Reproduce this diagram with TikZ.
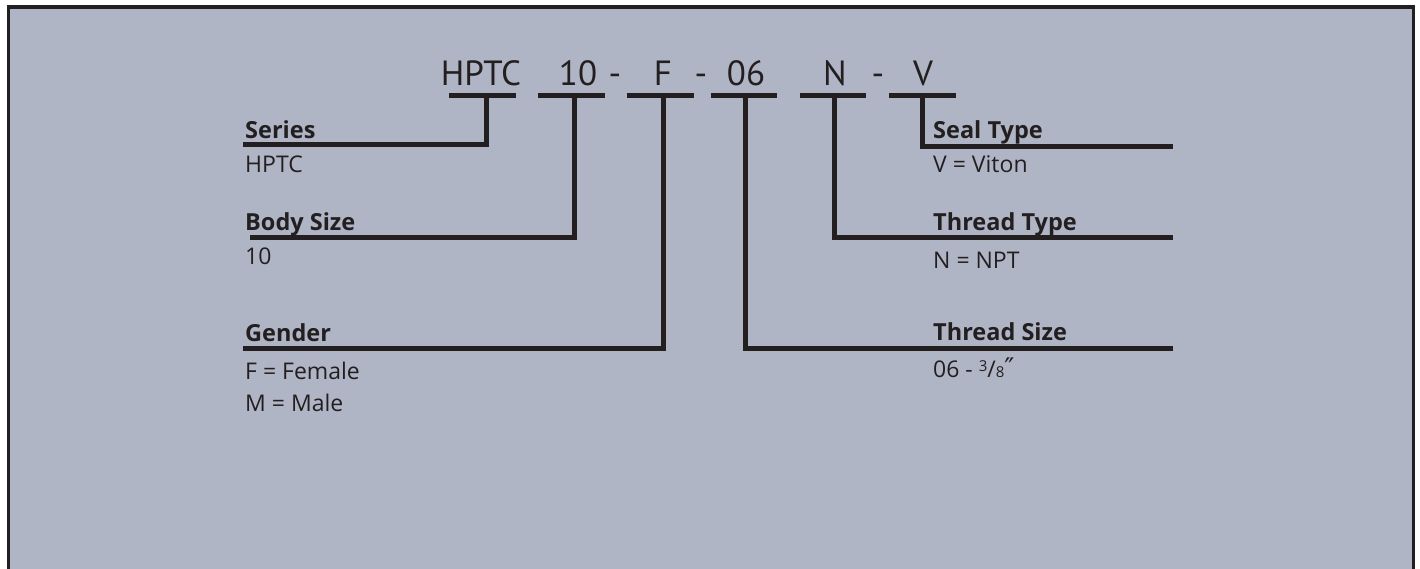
\documentclass[tikz,border=0pt]{standalone}
\usepackage{fontspec}
\setmainfont{Open Sans}
\newfontfamily\codefont{PT Sans}
\newfontfamily\symfont{DejaVu Sans}
\definecolor{bg}{RGB}{176,181,198}
\definecolor{ink}{RGB}{35,31,32}
\begin{document}
\begin{tikzpicture}[x=1pt,y=-1pt,
  bar/.style={line width=5pt,draw=ink},
  lead/.style={line width=5pt,draw=ink,line join=miter},
  code/.style={anchor=base,inner sep=0,text=ink,font=\codefont\fontsize{35}{35}\selectfont},
  head/.style={anchor=base west,inner sep=0,text=ink,font=\fontsize{23.5}{23.5}\selectfont\bfseries},
  val/.style={anchor=base west,inner sep=0,text=ink,font=\fontsize{23}{23}\selectfont}]
\useasboundingbox (0,0) rectangle (1420,569);
\fill[white] (0,0) rectangle (1420,569);
\fill[bg] (8.5,7) rectangle (1413.5,569);
\draw[ink,line width=3.5pt] (8.5,569) -- (8.5,7) -- (1413.5,7) -- (1413.5,569);

% code tokens
\node[code] (cS) at (481,86) {HPTC};
\node[code] (cB) at (578,86) {10};
\node[code] (d1) at (615,86) {-};
\node[code] (cG) at (663,86) {F};
\node[code] (d2) at (701,86) {-};
\node[code] (cTS) at (746,86) {06};
\node[code] (cTT) at (835,86) {N};
\node[code] (d3) at (878,86) {-};
\node[code] (cV) at (923,86) {V};

% bars
\coordinate (bS1) at (449,96);  \coordinate (bS2) at (516,96);
\coordinate (bB1) at (538,96);  \coordinate (bB2) at (605,96);
\coordinate (bG1) at (627,96);  \coordinate (bG2) at (694,96);
\coordinate (bT1) at (711,96);  \coordinate (bT2) at (777,96);
\coordinate (bN1) at (800,96);  \coordinate (bN2) at (866,96);
\coordinate (bV1) at (889,96);  \coordinate (bV2) at (956,96);
\foreach \b in {S,B,G,T,N,V} \draw[bar] (b\b1) -- (b\b2);

% labels left
\node[head] (hS) at (245,139) {Series};
\node[val]  (vS) at (245,173) {HPTC};
\node[head] (hB) at (245,230) {Body Size};
\node[val]  (vB) at (245,265) {10};
\node[head] (hG) at (245,341) {Gender};
\node[val]  (vG1) at (245,379) {F = Female};
\node[val]  (vG2) at (245,411) {M = Male};

% labels right
\node[head] (hV) at (933,139) {Seal Type};
\node[val]  (vV) at (933,173) {V = Viton};
\node[head] (hTT) at (933,231) {Thread Type};
\node[val]  (vTT) at (933,268) {N = NPT};
\node[head] (hTS) at (933,340) {Thread Size};
\node[val]  (vTS) at (933,377) {06 - {\fontsize{15}{15}\selectfont\raisebox{6pt}{3}}/{\fontsize{15}{15}\selectfont 8}{\symfont\fontsize{27}{27}\selectfont ″}};

% leader endpoints
\coordinate (eS) at (243,145);
\coordinate (eB) at (250,238);
\coordinate (eG) at (243,348);
\coordinate (eTS) at (1173,348);
\coordinate (eTT) at (1173,238);
\coordinate (eV) at (1173,147);

\draw[lead] (486,96) |- (eS);
\draw[lead] (574,96) |- (eB);
\draw[lead] (663,96) |- (eG);
\draw[lead] (745,96) |- (eTS);
\draw[lead] (834,96) |- (eTT);
\draw[lead] (922,96) |- (eV);
\end{tikzpicture}
\end{document}
